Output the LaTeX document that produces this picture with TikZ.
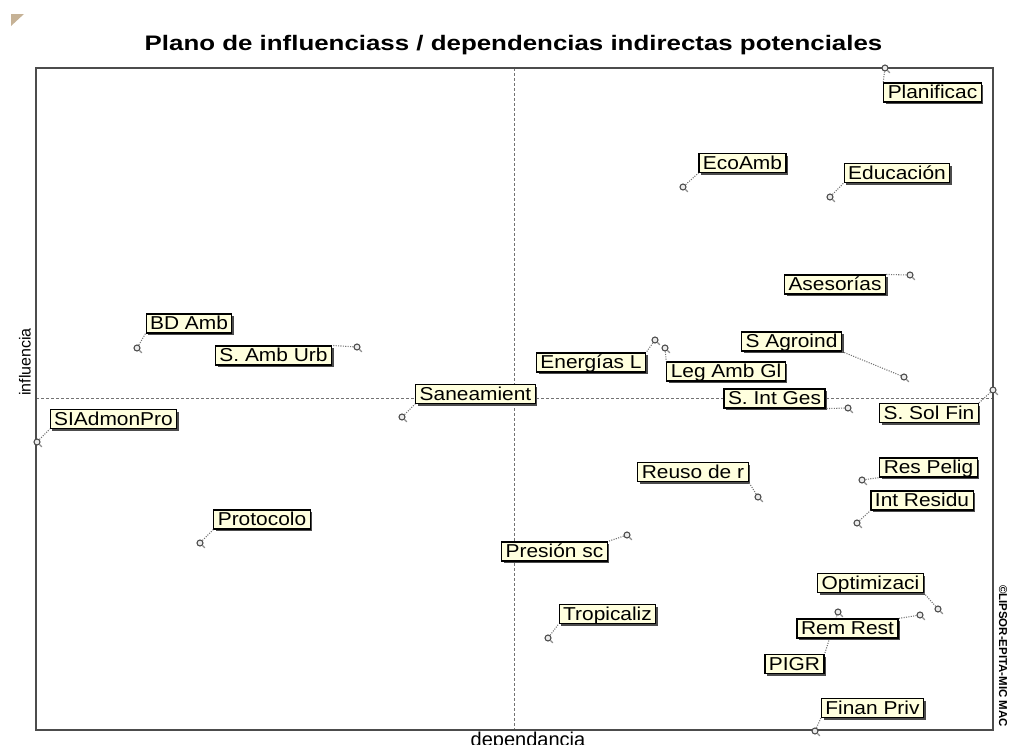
\documentclass[tikz,border=0pt]{standalone}
\usepackage{graphicx}
\usepackage{fontspec}
\setmainfont{Liberation Sans}
\newfontfamily\lblfamily[FakeStretch=1.12]{Liberation Sans}
\usetikzlibrary{shadows}
\definecolor{tipfill}{RGB}{255,255,222}
\definecolor{cornertan}{RGB}{198,178,150}
\newcommand{\lblfont}{\lblfamily\fontsize{14pt}{16pt}\selectfont}
\begin{document}
\begin{tikzpicture}[x=0.75pt,y=-0.75pt,
  lab/.style={draw=black, line width=0.85pt, fill=tipfill, font=\lblfont,
    inner xsep=3pt, inner ysep=0.4pt, text height=11.25pt, text depth=2.2pt,
    drop shadow={shadow xshift=1.6pt, shadow yshift=-1.6pt, fill=black!70, opacity=1}},
  pt/.style={circle, inner sep=0pt, minimum size=4.5pt, draw=black!70, fill=black!8, line width=0.8pt},
  lead/.style={densely dotted, draw=black!55, line width=0.8pt},
  tail/.style={draw=black!45, line width=0.9pt, line cap=round},
  axisline/.style={draw=black!55, line width=0.6pt, dash pattern=on 2.25pt off 1.5pt},
  frameline/.style={draw=black!70, line width=1.5pt}]
\useasboundingbox (0,0) rectangle (1011,744);

% corner mark
\fill[cornertan] (11,14) -- (24,14) -- (11,26) -- cycle;

% title
\node[font=\bfseries\fontsize{15.75pt}{18pt}\selectfont, anchor=base, inner sep=0pt] (title) at (513.5,50)
  {\scalebox{1.232}[1]{Plano de influenciass / dependencias indirectas potenciales}};

% axes and frame
\draw[axisline] (514,68) -- (514,730);
\draw[axisline] (36,398) -- (993,398);
\draw[frameline] (36,68) rectangle (993,730);

% axis titles
\node[rotate=90, font=\fontsize{12pt}{14pt}\selectfont, inner sep=0pt] (ylab) at (25,362) {influencia};
\node[anchor=base, font=\fontsize{15pt}{17pt}\selectfont, inner sep=0pt] (xlab) at (528,746) {dependancia};
\node[rotate=-90, font=\bfseries\fontsize{8.6pt}{10pt}\selectfont, inner sep=0pt] (copy) at (1003,656) {©LIPSOR-EPITA-MIC MAC};

% points
\node[pt] (d1) at (885,68) {};
\node[pt] (d2) at (683,187) {};
\node[pt] (d3) at (830,197) {};
\node[pt] (d4) at (910,275) {};
\node[pt] (d5) at (137,348) {};
\node[pt] (d6) at (357,347) {};
\node[pt] (d7) at (402,417) {};
\node[pt] (d8) at (37,442) {};
\node[pt] (d9) at (200,543) {};
\node[pt] (d10) at (655,340) {};
\node[pt] (d11) at (665,348) {};
\node[pt] (d12) at (904,377) {};
\node[pt] (d13) at (848,408) {};
\node[pt] (d14) at (993,390) {};
\node[pt] (d15) at (758,497) {};
\node[pt] (d16) at (862,480) {};
\node[pt] (d17) at (857,523) {};
\node[pt] (d18) at (627,535) {};
\node[pt] (d19) at (938,609) {};
\node[pt] (d20) at (920,615) {};
\node[pt] (d21) at (838,612) {};
\node[pt] (d22) at (548,638) {};
\node[pt] (d23) at (815,731) {};
\foreach \i in {1,...,23} \draw[tail] (d\i.south east) -- ++(1.6pt,-1.6pt);

% label positions (coordinates of label centres)
\coordinate (c1) at (932.5,92.5);
\coordinate (c2) at (742.5,163);
\coordinate (c3) at (897,173);
\coordinate (c4) at (835,284.5);
\coordinate (c5) at (189,323.5);
\coordinate (c6) at (273.5,355.5);
\coordinate (c7) at (475.5,394);
\coordinate (c8) at (113.5,419);
\coordinate (c9) at (262,519.5);
\coordinate (c10) at (591,362.5);
\coordinate (c11) at (726,371.5);
\coordinate (c12) at (791.5,341.5);
\coordinate (c13) at (774.5,398.5);
\coordinate (c14) at (929,413);
\coordinate (c15) at (693,472);
\coordinate (c16) at (928.5,467.5);
\coordinate (c17) at (922,500.5);
\coordinate (c18) at (554.5,551.5);
\coordinate (c19) at (870.5,583);
\coordinate (c20) at (847.5,628.5);
\coordinate (c21) at (794.5,664);
\coordinate (c22) at (607.5,614);
\coordinate (c23) at (872.5,708);

% labels (PIGR first so that its leader passes behind Rem Rest)
\node[lab] (l21) at (c21) {PIGR};
\draw[lead] (d21) -- (l21.north east);
\node[lab] (l1) at (c1) {Planificac};
\node[lab] (l2) at (c2) {EcoAmb};
\node[lab] (l3) at (c3) {Educación};
\node[lab] (l4) at (c4) {Asesorías};
\node[lab] (l5) at (c5) {BD Amb};
\node[lab] (l6) at (c6) {S. Amb Urb};
\node[lab] (l7) at (c7) {Saneamient};
\node[lab] (l8) at (c8) {SIAdmonPro};
\node[lab] (l9) at (c9) {Protocolo};
\node[lab] (l10) at (c10) {Energías L};
\node[lab] (l11) at (c11) {Leg Amb Gl};
\node[lab] (l12) at (c12) {S Agroind};
\node[lab] (l13) at (c13) {S. Int Ges};
\node[lab] (l14) at (c14) {S. Sol Fin};
\node[lab] (l15) at (c15) {Reuso de r};
\node[lab] (l16) at (c16) {Res Pelig};
\node[lab] (l17) at (c17) {Int Residu};
\node[lab] (l18) at (c18) {Presión sc};
\node[lab] (l19) at (c19) {Optimizaci};
\node[lab] (l20) at (c20) {Rem Rest};
\node[lab] (l22) at (c22) {Tropicaliz};
\node[lab] (l23) at (c23) {Finan Priv};

% leaders
\draw[lead] (d1) -- (l1.north west);
\draw[lead] (d2) -- (l2.south west);
\draw[lead] (d3) -- (l3.south west);
\draw[lead] (d4) -- (l4.north east);
\draw[lead] (d5) -- (l5.south west);
\draw[lead] (d6) -- (l6.north east);
\draw[lead] (d7) -- (l7.south west);
\draw[lead] (d8) -- (l8.south west);
\draw[lead] (d9) -- (l9.south west);
\draw[lead] (d10) -- (l10.north east);
\draw[lead] (d11) -- (l11.north west);
\draw[lead] (d12) -- (l12.south east);
\draw[lead] (d13) -- (l13.south east);
\draw[lead] (d14) -- (l14.north east);
\draw[lead] (d15) -- (l15.south east);
\draw[lead] (d16) -- (l16.south west);
\draw[lead] (d17) -- (l17.south west);
\draw[lead] (d18) -- (l18.north east);
\draw[lead] (d19) -- (l19.south east);
\draw[lead] (d20) -- (l20.north east);
\draw[lead] (d22) -- (l22.south west);
\draw[lead] (d23) -- (l23.south west);
\end{tikzpicture}
\end{document}
